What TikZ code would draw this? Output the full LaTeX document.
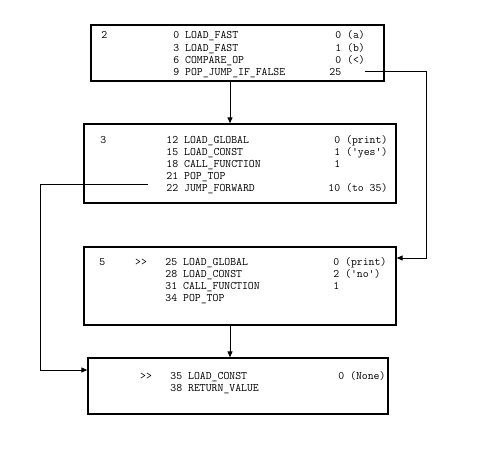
\documentclass[tikz,border=0pt]{standalone}
\usepackage{fontspec}
\usetikzlibrary{arrows.meta}
\newcommand{\opline}[6]{\makebox[18pt][r]{#1}\hspace{30pt}\makebox[12pt][l]{#2}\hspace{6pt}\makebox[24pt][r]{#3}\hspace{6pt}\makebox[120pt][l]{#4}\hspace{6pt}\makebox[30pt][r]{#5}\hspace{6pt}#6}
\begin{document}
\begin{tikzpicture}[x=1pt, y=-1pt,
		block/.style={draw, rectangle, line width=1.3pt, inner sep=0pt},
		code/.style={font=\ttfamily\fontsize{11.43}{12}\selectfont, inner sep=0pt, anchor=base west},
		flow/.style={line width=1pt, -{Triangle[length=6pt,width=5pt]}}
		]
	\useasboundingbox (0,0) rectangle (492,454);
	\node [block, minimum width=293pt, minimum height=56pt] (b1) at (237.5,53) {};
	\node [block, minimum width=312pt, minimum height=79pt] (b2) at (240,163.5) {};
	\node [block, minimum width=312pt, minimum height=78pt] (b3) at (240,286) {};
	\node [block, minimum width=300pt, minimum height=56pt] (b4) at (238,386) {};
	\node [code] (t11) at (89,39)   {\opline{2}{}{0}{LOAD\_FAST}{0}{(a)}};
	\node [code] (t12) at (89,51.2) {\opline{}{}{3}{LOAD\_FAST}{1}{(b)}};
	\node [code] (t13) at (89,63.4) {\opline{}{}{6}{COMPARE\_OP}{0}{(<)}};
	\node [code] (t14) at (89,75.6) {\opline{}{}{9}{POP\_JUMP\_IF\_FALSE}{25}{}};
	\node [code] (t21) at (88,143.5) {\opline{3}{}{12}{LOAD\_GLOBAL}{0}{(print)}};
	\node [code] (t22) at (88,155.6) {\opline{}{}{15}{LOAD\_CONST}{1}{('yes')}};
	\node [code] (t23) at (88,167.7) {\opline{}{}{18}{CALL\_FUNCTION}{1}{}};
	\node [code] (t24) at (88,179.8) {\opline{}{}{21}{POP\_TOP}{}{}};
	\node [code] (t25) at (88,191.9) {\opline{}{}{22}{JUMP\_FORWARD}{10}{(to 35)}};
	\node [code] (t31) at (87,265)   {\opline{5}{>{}>}{25}{LOAD\_GLOBAL}{0}{(print)}};
	\node [code] (t32) at (87,277.2) {\opline{}{}{28}{LOAD\_CONST}{2}{('no')}};
	\node [code] (t33) at (87,289.4) {\opline{}{}{31}{CALL\_FUNCTION}{1}{}};
	\node [code] (t34) at (87,301.6) {\opline{}{}{34}{POP\_TOP}{}{}};
	\node [code] (t41) at (92,379)   {\opline{}{>{}>}{35}{LOAD\_CONST}{0}{(None)}};
	\node [code] (t42) at (92,391.2) {\opline{}{}{38}{RETURN\_VALUE}{}{}};
	\coordinate (mid) at (230,0);
	\coordinate (j1) at (365,72);
	\coordinate (r1) at (426,258);
	\coordinate (j2) at (148,185);
	\coordinate (l2) at (40,370);
	\draw [flow] (b1.south -| mid) -- (b2.north -| mid);
	\draw [flow] (b3.south -| mid) -- (b4.north -| mid);
	\draw [flow] (j1) -| (r1) -- (r1 -| b3.east);
	\draw [flow] (j2) -| (l2) -- (l2 -| b4.west);
\end{tikzpicture}
\end{document}
